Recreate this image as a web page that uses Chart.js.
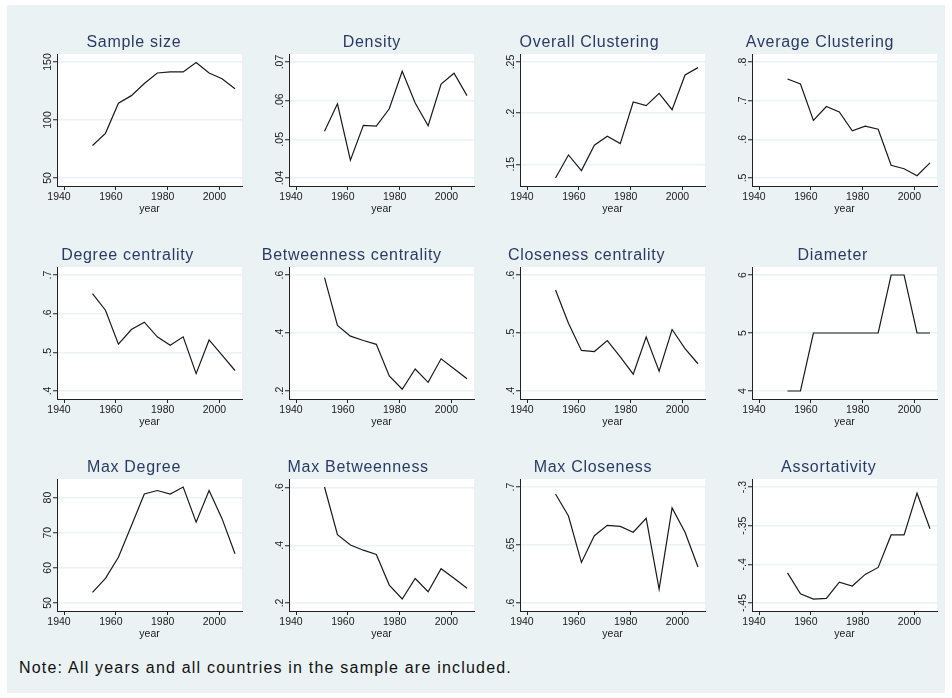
<!DOCTYPE html>
<html><head><meta charset="utf-8">
<script src="https://cdn.jsdelivr.net/npm/chart.js@4.4.1/dist/chart.umd.min.js"></script>
<style>
html,body{margin:0;padding:0;background:#fff;}
#page{position:relative;width:952px;height:698px;overflow:hidden;background:#fff;}
#bg{position:absolute;left:7px;top:5px;width:938px;height:688px;background:#eaf2f3;}
.panel{position:absolute;}
#note{position:absolute;left:19px;top:658px;font:16px "Liberation Sans",Arial,sans-serif;letter-spacing:1.2px;line-height:20px;color:#111;white-space:nowrap;}
</style></head>
<body>
<div id="page"><div id="bg"></div><div id="note">Note: All years and all countries in the sample are included.</div></div>
<script>
// ---------------- data ----------------
const years = [1951,1956,1961,1966,1971,1976,1981,1986,1991,1996,2001,2006];
const yearTicks = [1940,1960,1980,2000];

const sampleSize = [78,88.5,114.5,121,131.5,140.5,141.5,141.5,149.5,140.5,135.5,127];
const density = [.0521,.0592,.0446,.0536,.0534,.0579,.0676,.0594,.0535,.0643,.0671,.0613];
const overallClustering = [.1366,.1591,.1438,.1686,.1774,.1702,.2109,.2073,.2194,.2034,.2373,.2445];
const averageClustering = [.756,.743,.649,.685,.671,.622,.634,.626,.533,.524,.506,.539];
const degreeCentrality = [.652,.609,.521,.559,.578,.540,.518,.540,.445,.532,.493,.453];
const betweennessCentrality = [.591,.426,.389,.374,.361,.252,.206,.276,.230,.311,.277,.242];
const closenessCentrality = [.574,.517,.470,.468,.487,.459,.429,.493,.434,.506,.473,.447];
const diameter = [4,4,5,5,5,5,5,5,6,6,5,5];
const maxDegree = [53,57,63,72,81,82,81,83,73,82,74,64];
const maxBetweenness = [.602,.437,.401,.383,.368,.262,.214,.285,.239,.319,.286,.251];
const maxCloseness = [.694,.675,.635,.658,.667,.666,.661,.673,.612,.682,.661,.631];
const assortativity = [-.411,-.438,-.445,-.444,-.423,-.428,-.413,-.404,-.362,-.362,-.308,-.354];

const sampleSizeTicks = [50,100,150];         const sampleSizeLabels = ["50","100","150"];
const densityTicks = [.04,.05,.06,.07];        const densityLabels = [".04",".05",".06",".07"];
const overallTicks = [.15,.2,.25];             const overallLabels = [".15",".2",".25"];
const averageTicks = [.5,.6,.7,.8];            const averageLabels = [".5",".6",".7",".8"];
const degreeTicks = [.4,.5,.6,.7];             const degreeLabels = [".4",".5",".6",".7"];
const betweennessTicks = [.2,.4,.6];           const betweennessLabels = [".2",".4",".6"];
const closenessTicks = [.4,.5,.6];             const closenessLabels = [".4",".5",".6"];
const diameterTicks = [4,5,6];                 const diameterLabels = ["4","5","6"];
const maxDegreeTicks = [50,60,70,80];          const maxDegreeLabels = ["50","60","70","80"];
const maxBetweennessTicks = [.2,.4,.6];        const maxBetweennessLabels = [".2",".4",".6"];
const maxClosenessTicks = [.6,.65,.7];         const maxClosenessLabels = [".6",".65",".7"];
const assortTicks = [-.45,-.4,-.35,-.3];       const assortLabels = ["-.45","-.4","-.35","-.3"];

const titles = ["Sample size","Density","Overall Clustering","Average Clustering",
  "Degree centrality","Betweenness centrality","Closeness centrality","Diameter",
  "Max Degree","Max Betweenness","Max Closeness","Assortativity"];
const seriesList = [sampleSize,density,overallClustering,averageClustering,
  degreeCentrality,betweennessCentrality,closenessCentrality,diameter,
  maxDegree,maxBetweenness,maxCloseness,assortativity];
const tickList = [sampleSizeTicks,densityTicks,overallTicks,averageTicks,degreeTicks,betweennessTicks,
  closenessTicks,diameterTicks,maxDegreeTicks,maxBetweennessTicks,maxClosenessTicks,assortTicks];
const labelList = [sampleSizeLabels,densityLabels,overallLabels,averageLabels,degreeLabels,betweennessLabels,
  closenessLabels,diameterLabels,maxDegreeLabels,maxBetweennessLabels,maxClosenessLabels,assortLabels];

// ---------------- layout / style ----------------
const FONT = '"Liberation Sans", Arial, sans-serif';
const colLeft = [57,289,520,752];
const rowTop = [54,267,479];
const PW = 185, PH = 132;
const PADL = 50, PADT = 40, PADR = 8, PADB = 34;
const tickFontSize = 10.5;

const measureCtx = document.createElement('canvas').getContext('2d');
measureCtx.font = tickFontSize + 'px ' + FONT;

const plotBg = {
  id: 'plotBg',
  beforeDraw(chart) {
    const {ctx, chartArea: a} = chart;
    ctx.save();
    ctx.fillStyle = '#ffffff';
    ctx.fillRect(a.left, a.top, a.right - a.left, a.bottom - a.top);
    ctx.restore();
  }
};
const stataTitle = {
  id: 'stataTitle',
  afterDraw(chart, args, opts) {
    const {ctx, chartArea: a} = chart;
    ctx.save();
    ctx.font = '16px ' + FONT;
    try { ctx.letterSpacing = '0.7px'; } catch (e) {}
    ctx.fillStyle = '#2a3a68';
    ctx.textBaseline = 'alphabetic';
    ctx.textAlign = 'left';
    const w = ctx.measureText(opts.text).width;
    const cx = (a.left + a.right) / 2 - 0.165 * w;
    ctx.fillText(opts.text, cx - w / 2, a.top - 7.3);
    ctx.restore();
  }
};

const page = document.getElementById('page');
const xLo = Math.min(yearTicks[0], years[0]);
const xHi = Math.max(yearTicks[yearTicks.length - 1], years[years.length - 1]);
const xPad = (xHi - xLo) * 0.041;

seriesList.forEach((vals, k) => {
  const r = Math.floor(k / 4), c = k % 4;
  const ticks = tickList[k], labels = labelList[k];
  const lo = Math.min(ticks[0], ...vals), hi = Math.max(ticks[ticks.length - 1], ...vals);
  const yPad = (hi - lo) * 0.069;
  const widest = Math.max(...labels.map(s => measureCtx.measureText(s).width));
  const yLabelPad = 4.5 - widest / 2;

  const cv = document.createElement('canvas');
  const W = PADL + PW + PADR, H = PADT + PH + PADB;
  cv.width = W; cv.height = H;
  cv.className = 'panel';
  cv.style.left = (colLeft[c] - PADL) + 'px';
  cv.style.top = (rowTop[r] - PADT) + 'px';
  cv.style.width = W + 'px'; cv.style.height = H + 'px';
  page.appendChild(cv);

  new Chart(cv, {
    type: 'line',
    data: {
      datasets: [{
        data: years.map((x, i) => ({x: x, y: vals[i]})),
        borderColor: '#1a1a1a', borderWidth: 1.2, pointRadius: 0, fill: false, tension: 0
      }]
    },
    options: {
      responsive: false, animation: false, devicePixelRatio: 1,
      layout: {padding: {top: PADT, right: PADR, left: 0, bottom: 0}},
      plugins: {legend: {display: false}, tooltip: {enabled: false}, title: {display: false},
                stataTitle: {text: titles[k]}},
      scales: {
        x: {
          type: 'linear', min: xLo - xPad, max: xHi + xPad,
          afterBuildTicks: s => { s.ticks = yearTicks.map(v => ({value: v})); },
          afterFit: s => { s.height = PADB; },
          ticks: {font: {family: FONT, size: tickFontSize}, color: '#1a1a1a', padding: 1, labelOffset: -5,
                  minRotation: 0, maxRotation: 0, callback: v => String(v)},
          grid: {display: true, drawOnChartArea: false, drawTicks: true, tickLength: 4, tickColor: '#222', tickWidth: 1},
          border: {display: true, color: '#222', width: 1},
          title: {display: true, text: 'year', font: {family: FONT, size: tickFontSize}, color: '#1a1a1a',
                  padding: {top: 0, bottom: 4.7}}
        },
        y: {
          type: 'linear', min: lo - yPad, max: hi + yPad,
          afterBuildTicks: s => { s.ticks = ticks.map(v => ({value: v})); },
          afterFit: s => { s.width = PADL; },
          ticks: {font: {family: FONT, size: tickFontSize}, color: '#1a1a1a', minRotation: 90, maxRotation: 90,
                  crossAlign: 'center', padding: yLabelPad, callback: (v, i) => labels[i]},
          grid: {display: true, color: '#eaf2f3', lineWidth: 1.5, drawTicks: true, tickLength: 4, tickColor: '#222', tickWidth: 1},
          border: {display: true, color: '#222', width: 1}
        }
      }
    },
    plugins: [plotBg, stataTitle]
  });
});
</script>
</body></html>
